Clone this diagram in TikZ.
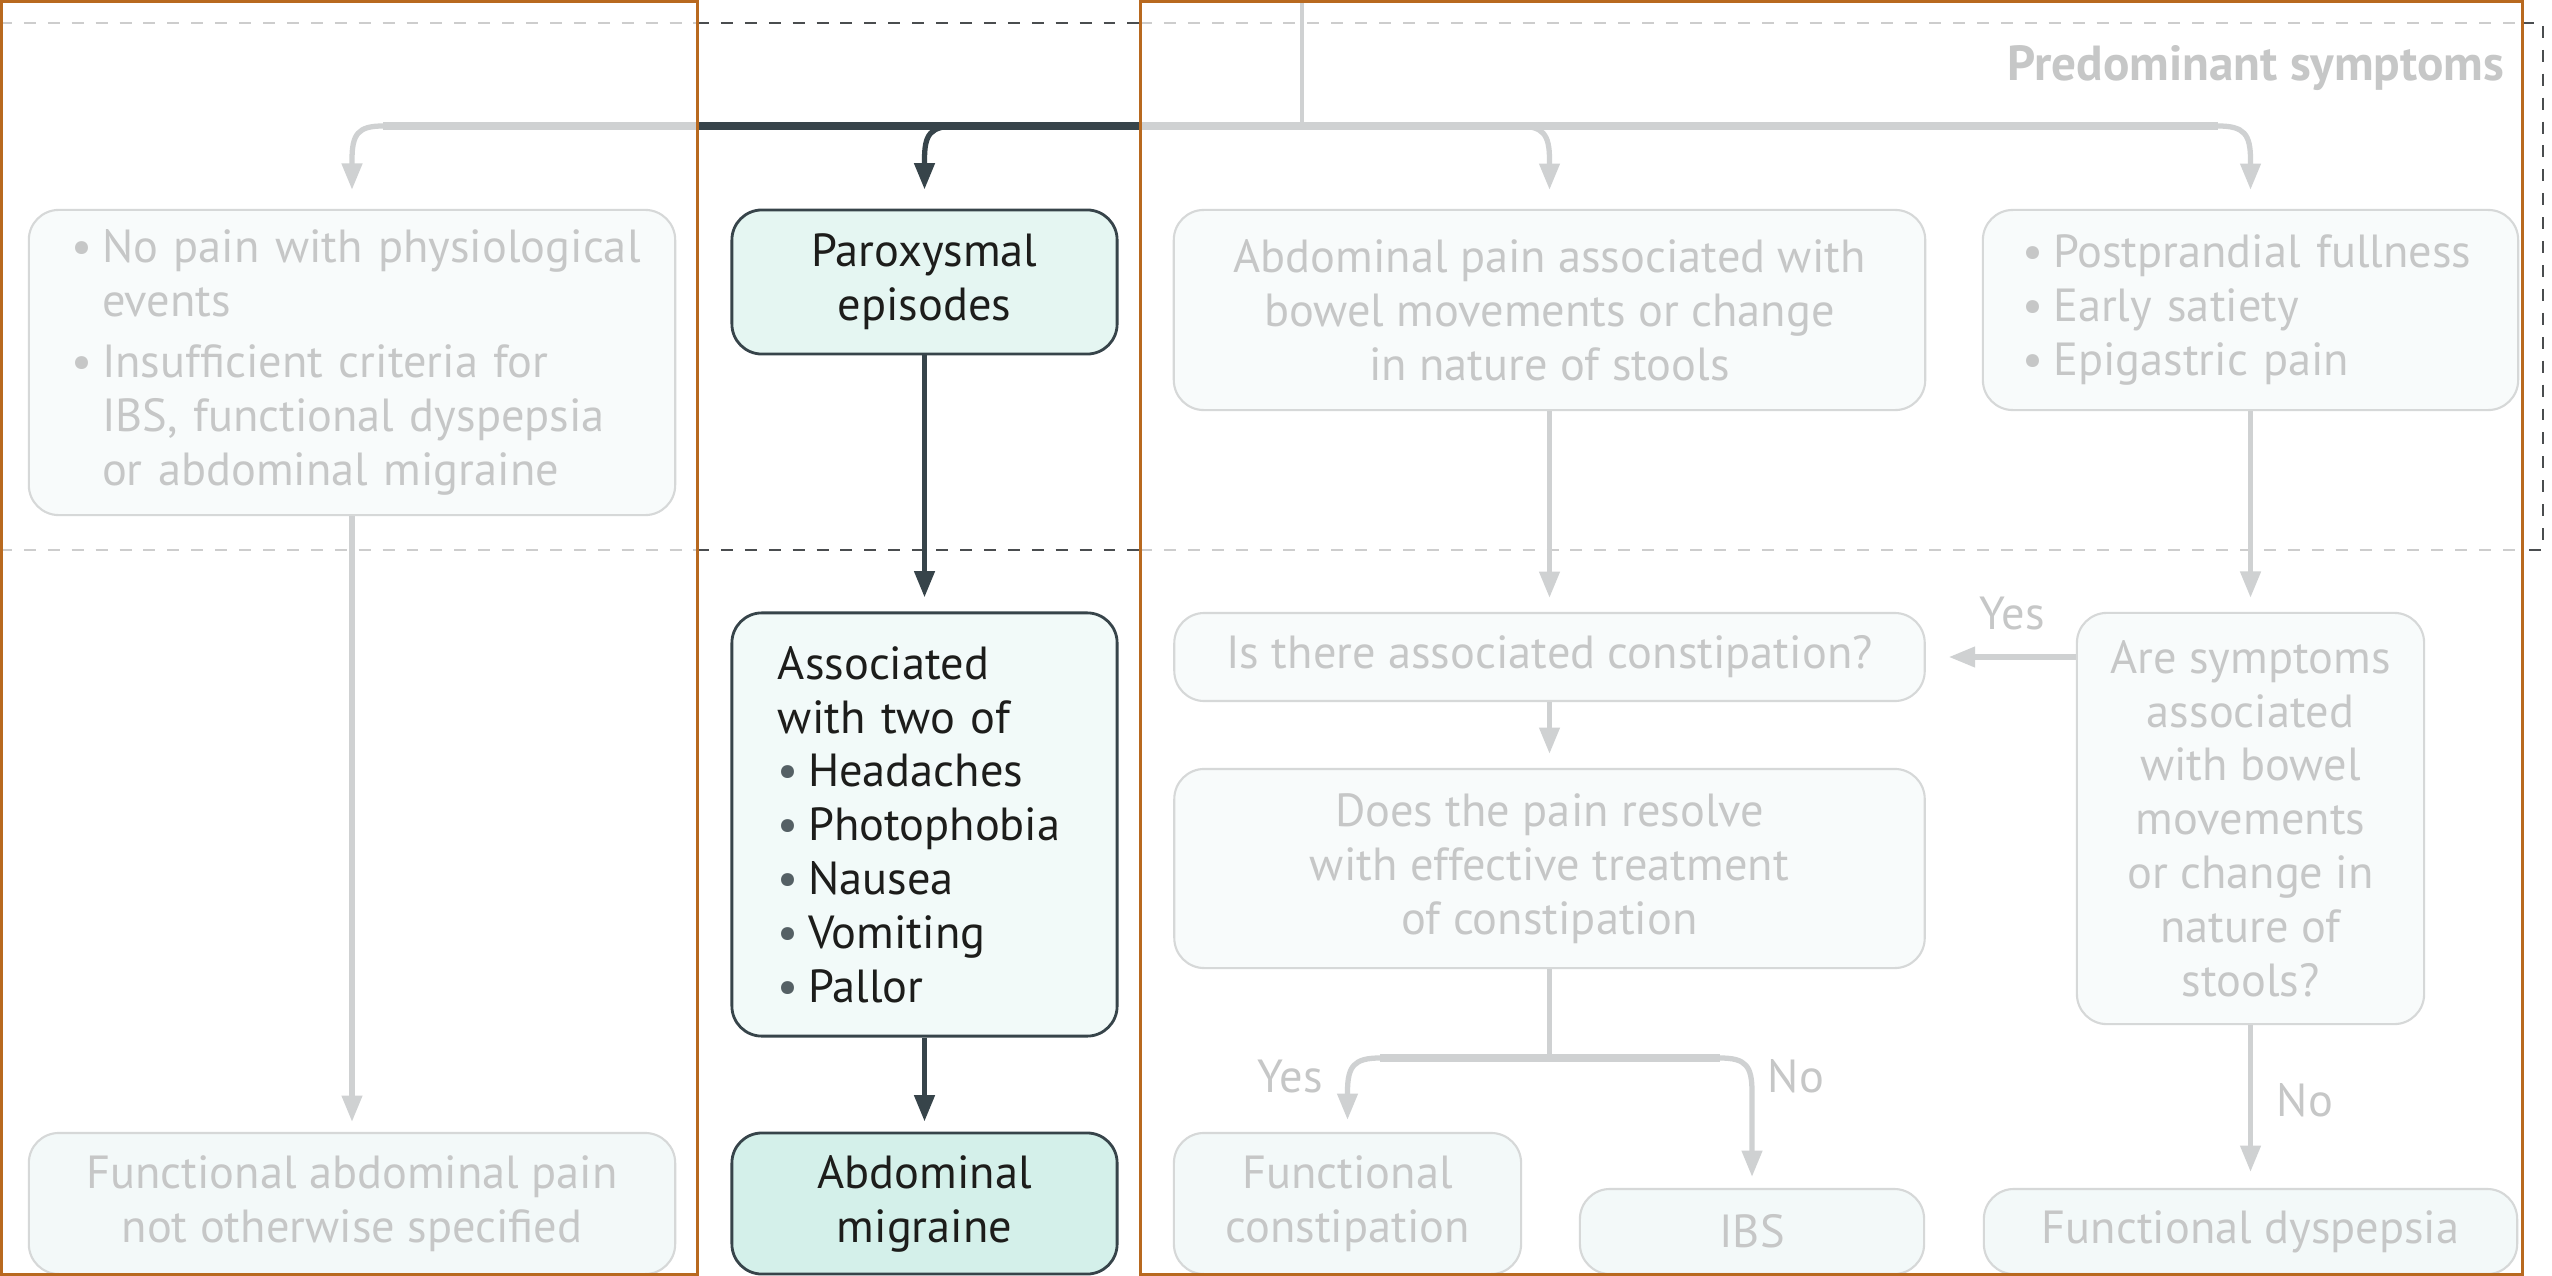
\documentclass[tikz,border=0pt]{standalone}
\usepackage{fontspec}
\setmainfont{PT Sans}
\usetikzlibrary{arrows.meta}
\definecolor{fadetext}{HTML}{C6C7C7}
\definecolor{fadeline}{HTML}{CFD1D2}
\definecolor{fadeborder}{HTML}{D6D8D8}
\definecolor{fadefill}{HTML}{F8FBFB}
\definecolor{fadefillb}{HTML}{F3F9F9}
\definecolor{darkline}{HTML}{37444A}
\definecolor{darktext}{HTML}{1D1D1B}
\definecolor{tealP}{HTML}{E5F6F2}
\definecolor{tealA}{HTML}{F2FAF9}
\definecolor{tealM}{HTML}{D4F0EA}
\definecolor{orangeline}{HTML}{B8691F}
\definecolor{dashdark}{HTML}{4A4D4F}
\definecolor{dashlight}{HTML}{CDCDCD}
\newcommand{\fsz}{\fontsize{13.2pt}{15.3pt}\selectfont}
\newcommand{\bl}{\makebox[8.6pt][l]{\textbullet}}
\newcommand{\ind}{\hspace*{8.6pt}}
\begin{document}
\begin{tikzpicture}[x=0.01cm,y=-0.01cm,
  boxbase/.style={rounded corners=0.3cm, inner sep=0pt, font=\fsz},
  fadebox/.style={boxbase, draw=fadeborder, fill=fadefill, text=fadetext, line width=0.6pt},
  fadeboxb/.style={fadebox, fill=fadefillb},
  darkbox/.style={boxbase, draw=darkline, text=darktext, line width=0.8pt},
  tip/.style={-{Triangle[length=7.5pt,width=5.6pt]}},
  farrow/.style={draw=fadeline, line width=1.5pt, tip},
  darrow/.style={draw=darkline, line width=1.5pt, tip},
  fmain/.style={draw=fadeline, line width=2pt},
  dmain/.style={draw=darkline, line width=2pt},
  dashlt/.style={draw=dashlight, line width=0.6pt, dash pattern=on 3.4pt off 3.4pt},
  dashdk/.style={draw=dashdark, line width=0.6pt, dash pattern=on 3.4pt off 3.4pt},
  lbl/.style={font=\fsz, text=fadetext, inner sep=0pt, anchor=base}
]
\useasboundingbox (0,0) rectangle (2552,1276);
\fill[white] (0,0) rectangle (2552,1276);

% dashed region
\coordinate (d1) at (0,23);
\coordinate (d2) at (697,23);
\coordinate (d3) at (1140,23);
\coordinate (d4) at (2522,23);
\coordinate (d5) at (2543,23);
\coordinate (e1) at (0,550);
\coordinate (e2) at (697,550);
\coordinate (e3) at (1140,550);
\coordinate (e4) at (2522,550);
\coordinate (e5) at (2543,550);
\draw[dashlt] (d1) -- (d2);
\draw[dashdk] (d2) -- (d3);
\draw[dashlt] (d3) -- (d4);
\draw[dashdk] (d4) -- (d5) -- (e5) -- (e4);
\draw[dashlt] (e1) -- (e2);
\draw[dashdk] (e2) -- (e3);
\draw[dashlt] (e3) -- (e4);

\node[lbl, font=\fontsize{14pt}{16pt}\selectfont\bfseries, anchor=base east] (pred) at (2505,81) {Predominant symptoms};

% boxes
\node[fadebox, minimum width=6.46cm, minimum height=3.05cm, text width=5.6cm, align=left] (L1) at (352,362.5)
 {\mbox{\bl No pain with physiological}\\ \ind events\\[2pt] \mbox{\bl Insufficient criteria for}\\ \ind \mbox{IBS, functional dyspepsia}\\ \ind \mbox{or abdominal migraine}};
\node[darkbox, fill=tealP, minimum width=3.85cm, minimum height=1.44cm, align=center] (P) at (924.5,282)
 {Paroxysmal\\episodes};
\node[fadebox, minimum width=7.51cm, minimum height=2.0cm, align=center] (AP) at (1549.5,310)
 {Abdominal pain associated with\\bowel movements or change\\in nature of stools};
\node[fadebox, minimum width=5.35cm, minimum height=2.0cm, text width=4.55cm, align=left] (PP) at (2250.5,310)
 {\bl Postprandial fullness\\ \bl Early satiety\\ \bl Epigastric pain};
\node[darkbox, fill=tealA, minimum width=3.85cm, minimum height=4.23cm, text width=2.93cm, align=left] (AS) at (924.5,824.5)
 {Associated\\with two of\\ {\color{darkline!85}\bl}Headaches\\ {\color{darkline!85}\bl}Photophobia\\ {\color{darkline!85}\bl}Nausea\\ {\color{darkline!85}\bl}Vomiting\\ {\color{darkline!85}\bl}Pallor};
\node[fadebox, minimum width=7.5cm, minimum height=0.88cm, align=center] (IC) at (1549.5,657)
 {Is there associated constipation?};
\node[fadebox, minimum width=7.5cm, minimum height=1.99cm, align=center] (DP) at (1549.5,868.5)
 {Does the pain resolve\\with effective treatment\\of constipation};
\node[fadebox, minimum width=3.47cm, minimum height=4.11cm, align=center] (ASY) at (2250.5,818.5)
 {Are symptoms\\associated\\with bowel\\movements\\or change in\\nature of\\stools?};
\node[fadeboxb, minimum width=6.46cm, minimum height=1.41cm, align=center] (FAP) at (352,1203.5)
 {Functional abdominal pain\\not otherwise specified};
\node[darkbox, fill=tealM, minimum width=3.85cm, minimum height=1.41cm, align=center] (AM) at (924.5,1203.5)
 {Abdominal\\migraine};
\node[fadeboxb, minimum width=3.47cm, minimum height=1.41cm, align=center] (FC) at (1347.5,1203.5)
 {Functional\\constipation};
\node[fadeboxb, minimum width=3.44cm, minimum height=0.85cm, align=center] (IBS) at (1752,1231.5)
 {IBS};
\node[fadeboxb, minimum width=5.33cm, minimum height=0.85cm, align=center] (FD) at (2250.5,1231.5)
 {Functional dyspepsia};

% top distribution
\coordinate (srctop) at (1302,0);
\coordinate (hub) at (1302,126);
\coordinate (bL) at (383,126);
\coordinate (pL) at (697,126);
\coordinate (pR) at (1140,126);
\coordinate (bR) at (2218,126);
\coordinate (bP) at (957,126);
\coordinate (bA) at (1518,126);
\draw[fadeline, line width=1.3pt] (srctop) -- (hub);
\draw[fmain] (bL) -- (pL);
\draw[dmain] (pL) -- (pR);
\draw[fmain] (pR) -- (bR);
\draw[farrow, shorten >=0.19cm] (bL) .. controls (358,126) and (352,134) .. (352,160) -- (L1.north);
\draw[darrow, shorten >=0.19cm] (bP) .. controls (930,126) and (924.5,134) .. (924.5,160) -- (P.north);
\draw[farrow, shorten >=0.19cm] (bA) .. controls (1543,126) and (1549.5,134) .. (1549.5,160) -- (AP.north);
\draw[farrow, shorten >=0.19cm] (bR) .. controls (2244,126) and (2250.5,134) .. (2250.5,160) -- (PP.north);

% vertical flows
\draw[farrow, shorten >=0.10cm] (L1.south) -- (FAP.north);
\draw[darrow, shorten >=0.14cm] (P.south) -- (AS.north);
\draw[darrow, shorten >=0.10cm] (AS.south) -- (AM.north);
\draw[farrow, shorten >=0.14cm] (AP.south) -- (IC.north);
\draw[farrow, shorten >=0.14cm] (IC.south) -- (DP.north);
\draw[farrow, shorten >=0.14cm] (PP.south) -- (ASY.north);
\draw[farrow, shorten >=0.23cm] (IC.east -| ASY.west) -- (IC.east);
\draw[farrow, shorten >=0.16cm] (ASY.south) -- (FD.north);

% branch from DP
\coordinate (dj) at (1549.5,1058);
\coordinate (dl) at (1380,1058);
\coordinate (dr) at (1720,1058);
\draw[fadeline, line width=1.5pt] (DP.south) -- (dj);
\draw[fmain] (dl) -- (dr);
\draw[farrow, shorten >=0.12cm] (dl) .. controls (1354,1058) and (1347.5,1066) .. (1347.5,1092) -- (FC.north);
\draw[farrow, shorten >=0.11cm] (dr) .. controls (1746,1058) and (1752,1066) .. (1752,1092) -- (IBS.north);

% labels
\node[lbl] (yes1) at (2012,629) {Yes};
\node[lbl] (yes2) at (1290,1092) {Yes};
\node[lbl] (no1) at (1796,1092) {No};
\node[lbl] (no2) at (2305,1116) {No};

% overlay frames
\draw[orangeline, line width=0.85pt] (1.5,1.5) rectangle (697,1274.5);
\draw[orangeline, line width=0.85pt] (1140,1.5) rectangle (2522,1274.5);
\end{tikzpicture}
\end{document}
